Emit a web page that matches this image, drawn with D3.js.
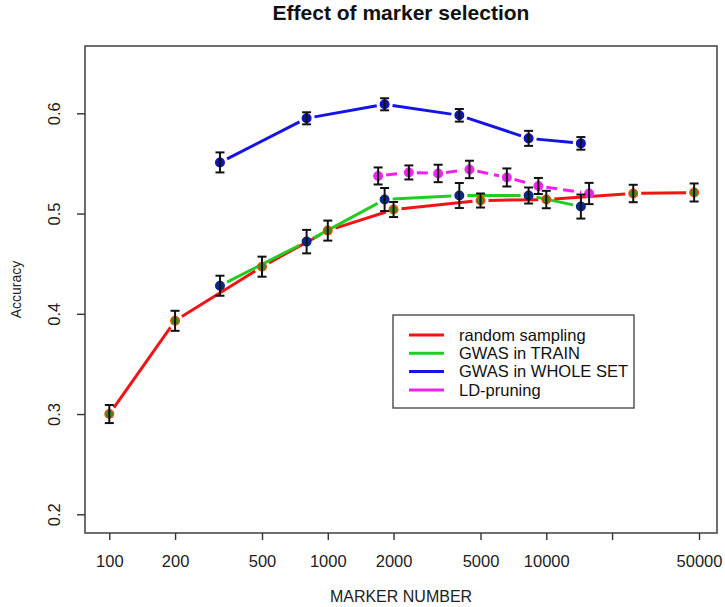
<!DOCTYPE html>
<html>
<head>
<meta charset="utf-8">
<script src="https://cdn.jsdelivr.net/npm/d3@7"></script>
<style>
  html, body { margin: 0; padding: 0; background: #fff; }
  svg { display: block; font-family: "Liberation Sans", Arial, sans-serif; }
</style>
</head>
<body>
<svg id="chart" width="725" height="607"></svg>
<script>
// ---- data ----
const xTicks = [100, 200, 500, 1000, 2000, 5000, 10000, 20000, 50000];
const xTickLabels = ["100", "200", "500", "1000", "2000", "5000", "10000", "", "50000"];
const yTicks = [0.2, 0.3, 0.4, 0.5, 0.6];
const yTickLabels = ["0.2", "0.3", "0.4", "0.5", "0.6"];

const seriesNames = ["random sampling", "GWAS in TRAIN", "GWAS in WHOLE SET", "LD-pruning"];

const randomN   = [100, 200, 500, 1000, 2000, 5000, 10000, 25000, 47500];
const randomAcc = [0.300, 0.393, 0.447, 0.483, 0.504, 0.513, 0.514, 0.520, 0.521];
const randomErr = [0.009, 0.010, 0.010, 0.010, 0.0075, 0.007, 0.0087, 0.0087, 0.009];

const trainN   = [321, 800, 1820, 4000, 8300, 14400];
const trainAcc = [0.428, 0.472, 0.514, 0.518, 0.518, 0.507];
const trainErr = [0.010, 0.0117, 0.0115, 0.0125, 0.008, 0.012];

const wholeN   = [321, 800, 1820, 4000, 8300, 14400];
const wholeAcc = [0.551, 0.595, 0.609, 0.598, 0.575, 0.570];
const wholeErr = [0.010, 0.006, 0.006, 0.0063, 0.0075, 0.0063];

const ldN   = [1700, 2350, 3200, 4450, 6600, 9200, 15700];
const ldAcc = [0.5375, 0.541, 0.540, 0.544, 0.536, 0.5275, 0.520];
const ldErr = [0.0085, 0.007, 0.0087, 0.0087, 0.009, 0.008, 0.0106];

// ---- layout ----
const svg = d3.select("#chart");
const box = { left: 85, right: 717, top: 46, bottom: 533 };

const x = d3.scaleLog().domain([100, 50000]).range([109.3, 699]);
const y = d3.scaleLinear().domain([0.2, 0.6]).range([514.3, 113.3]);

const lineColors = ["#f01414", "#22cc22", "#1414e6", "#f020f0"];
const markerFill = ["#3d8a1e", "#0a2a8a", "#0a1a9a", "#f020f0"];
const markerStroke = ["#e85010", "#0a2a8a", "#1010c8", "#e830e8"];
const dashes = [null, null, null, "11,6"];

const series = [
  { n: randomN, acc: randomAcc, err: randomErr },
  { n: trainN, acc: trainAcc, err: trainErr },
  { n: wholeN, acc: wholeAcc, err: wholeErr },
  { n: ldN, acc: ldAcc, err: ldErr }
].map((s, i) => ({
  name: seriesNames[i],
  pts: s.n.map((v, j) => ({ n: v, acc: s.acc[j], err: s.err[j] })),
  color: lineColors[i], fill: markerFill[i], stroke: markerStroke[i], dash: dashes[i]
}));

// title
svg.append("text").attr("x", (box.left + box.right) / 2).attr("y", 20)
  .attr("text-anchor", "middle").attr("font-weight", "bold").attr("font-size", 21)
  .attr("fill", "#111").text("Effect of marker selection");

// box
svg.append("rect").attr("x", box.left).attr("y", box.top)
  .attr("width", box.right - box.left).attr("height", box.bottom - box.top)
  .attr("fill", "none").attr("stroke", "#4a4a4a").attr("stroke-width", 1.6);

// x axis
const xAxis = d3.axisBottom(x).tickValues(xTicks)
  .tickFormat((d, i) => xTickLabels[i]).tickSize(7).tickSizeOuter(0).tickPadding(15);
const gx = svg.append("g").attr("transform", `translate(0,${box.bottom})`).call(xAxis);
gx.select(".domain").remove();
gx.selectAll(".tick line").attr("stroke", "#333").attr("stroke-width", 1.4);
gx.selectAll(".tick text").attr("font-size", 16.5).attr("fill", "#222")
  .attr("font-family", "'Liberation Sans', Arial, sans-serif");

// y axis
const yAxis = d3.axisLeft(y).tickValues(yTicks)
  .tickFormat((d, i) => yTickLabels[i]).tickSize(8).tickSizeOuter(0);
const gy = svg.append("g").attr("transform", `translate(${box.left},0)`).call(yAxis);
gy.select(".domain").remove();
gy.selectAll(".tick line").attr("stroke", "#333").attr("stroke-width", 1.4);
gy.selectAll(".tick text").attr("font-size", 16.5).attr("fill", "#222")
  .attr("font-family", "'Liberation Sans', Arial, sans-serif")
  .attr("transform", "rotate(-90)").attr("x", 0).attr("y", -31)
  .attr("dy", "0.35em").attr("text-anchor", "middle");

// axis titles
svg.append("text").attr("x", (box.left + box.right) / 2).attr("y", 596).attr("dy", "0.35em")
  .attr("text-anchor", "middle").attr("font-size", 16).attr("fill", "#222").text("MARKER NUMBER");
svg.append("text").attr("transform", `translate(16,${(box.top + box.bottom) / 2}) rotate(-90)`)
  .attr("dy", "0.35em").attr("text-anchor", "middle").attr("font-size", 14)
  .attr("fill", "#222").text("Accuracy");

// lines with gaps around points (R type = "b")
const gap = 8;
const plot = svg.append("g");
series.forEach(s => {
  const segs = [];
  for (let j = 0; j < s.pts.length - 1; j++) {
    const x1 = x(s.pts[j].n), y1 = y(s.pts[j].acc);
    const x2 = x(s.pts[j + 1].n), y2 = y(s.pts[j + 1].acc);
    const len = Math.hypot(x2 - x1, y2 - y1);
    if (len <= 2 * gap) continue;
    const ux = (x2 - x1) / len, uy = (y2 - y1) / len;
    segs.push({ x1: x1 + ux * gap, y1: y1 + uy * gap, x2: x2 - ux * gap, y2: y2 - uy * gap });
  }
  plot.append("g").selectAll("line").data(segs).join("line")
    .attr("x1", d => d.x1).attr("y1", d => d.y1).attr("x2", d => d.x2).attr("y2", d => d.y2)
    .attr("stroke", s.color).attr("stroke-width", 3)
    .attr("stroke-dasharray", s.dash);
});

// markers
series.forEach(s => {
  plot.append("g").selectAll("circle").data(s.pts).join("circle")
    .attr("cx", d => x(d.n)).attr("cy", d => y(d.acc)).attr("r", 4.3)
    .attr("fill", s.fill).attr("stroke", s.stroke).attr("stroke-width", 1.4);
});

// error bars
const cap = 4.5;
series.forEach(s => {
  const g = plot.append("g").attr("stroke", "#111").attr("stroke-width", 2).attr("fill", "none");
  const eb = g.selectAll("g").data(s.pts).join("g");
  eb.append("line").attr("x1", d => x(d.n)).attr("x2", d => x(d.n))
    .attr("y1", d => y(d.acc - d.err)).attr("y2", d => y(d.acc + d.err));
  eb.append("line").attr("x1", d => x(d.n) - cap).attr("x2", d => x(d.n) + cap)
    .attr("y1", d => y(d.acc + d.err)).attr("y2", d => y(d.acc + d.err));
  eb.append("line").attr("x1", d => x(d.n) - cap).attr("x2", d => x(d.n) + cap)
    .attr("y1", d => y(d.acc - d.err)).attr("y2", d => y(d.acc - d.err));
});

// legend
const leg = { x: 393, y: 315, rowY0: 335, rowDy: 18.3 };
const lg = svg.append("g");
const items = lg.selectAll("g").data(series).join("g")
  .attr("transform", (d, i) => `translate(0,${leg.rowY0 + i * leg.rowDy})`);
items.append("line").attr("x1", 409).attr("x2", 444).attr("y1", 0).attr("y2", 0)
  .attr("stroke", d => d.color).attr("stroke-width", 3);
items.append("text").attr("x", 459).attr("dy", "0.35em").attr("font-size", 16.5)
  .attr("fill", "#111").text(d => d.name);
let maxRight = 0;
items.selectAll("text").each(function () {
  maxRight = Math.max(maxRight, 459 + this.getComputedTextLength());
});
lg.insert("rect", ":first-child").attr("x", leg.x).attr("y", leg.y)
  .attr("width", maxRight + 6 - leg.x).attr("height", 408 - leg.y)
  .attr("fill", "#fff").attr("stroke", "#4a4a4a").attr("stroke-width", 1.4);
</script>
</body>
</html>
